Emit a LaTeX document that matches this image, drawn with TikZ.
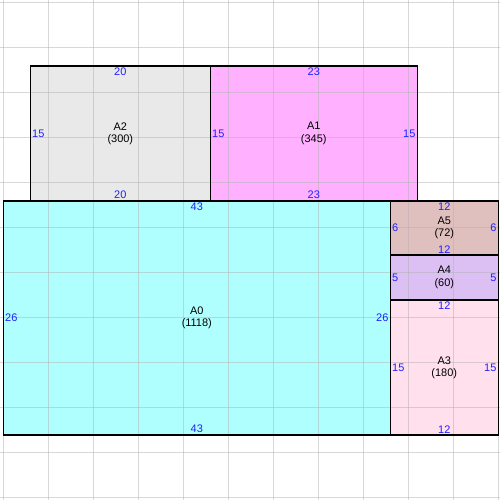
\documentclass[tikz,border=0pt]{standalone}
\usepackage{fontspec}
\setmainfont{Liberation Sans}
\usepackage{tikz}

\definecolor{fillA0}{RGB}{176,255,255}
\definecolor{fillA1}{RGB}{255,176,255}
\definecolor{fillA2}{RGB}{233,233,233}
\definecolor{fillA3}{RGB}{255,224,236}
\definecolor{fillA4}{RGB}{220,192,244}
\definecolor{fillA5}{RGB}{224,192,190}
\definecolor{dimblue}{RGB}{32,32,255}

\tikzset{
  gridline/.style={draw=gray!60,line width=0.9pt,opacity=0.5},
  roomedge/.style={draw=black,line width=1.1pt},
  dimlabel/.style={text=dimblue,inner sep=1.6pt},
  roomname/.style={align=center,inner sep=0pt}
}

\begin{document}
\begin{tikzpicture}[x=0.3cm,y=0.3cm,font=\fontsize{10.4}{11.6}\selectfont]
\useasboundingbox[fill=white] (-0.367,22.33) rectangle (55.19,-33.22);

% areas
\fill[fillA2] (3,15) rectangle (23,0);
\fill[fillA1] (23,15) rectangle (46,0);
\fill[fillA0] (0,0) rectangle (43,-26);
\fill[fillA5] (43,0) rectangle (55,-6);
\fill[fillA4] (43,-6) rectangle (55,-11);
\fill[fillA3] (43,-11) rectangle (55,-26);

% grid
\foreach \gx in {0,5,...,55}
	\draw[gridline] (\gx,22.33) -- (\gx,-33.22);
\foreach \gy in {22,17,...,-33}
	\draw[gridline] (-0.367,\gy) -- (55.19,\gy);

% outlines
\draw[roomedge] (3,15) rectangle (23,0);
\draw[roomedge] (23,15) rectangle (46,0);
\draw[roomedge] (0,0) rectangle (43,-26);
\draw[roomedge] (43,0) rectangle (55,-6);
\draw[roomedge] (43,-6) rectangle (55,-11);
\draw[roomedge] (43,-11) rectangle (55,-26);

% A2
\draw (13,7.5) node[roomname](A2name) {A2\\(300)};
	\draw (13,15) node[dimlabel,anchor=north](A2top) {20};
	\draw (13,0) node[dimlabel,anchor=south](A2bottom) {20};
	\draw (3,7.5) node[dimlabel,anchor=west](A2left) {15};
% A1
\draw (34.5,7.5) node[roomname](A1name) {A1\\(345)};
	\draw (34.5,15) node[dimlabel,anchor=north](A1top) {23};
	\draw (34.5,0) node[dimlabel,anchor=south](A1bottom) {23};
	\draw (23,7.5) node[dimlabel,anchor=west](A1left) {15};
	\draw (46,7.5) node[dimlabel,anchor=east](A1right) {15};
% A0
\draw (21.5,-13) node[roomname](A0name) {A0\\(1118)};
	\draw (21.5,0) node[dimlabel,anchor=north](A0top) {43};
	\draw (21.5,-26) node[dimlabel,anchor=south](A0bottom) {43};
	\draw (0,-13) node[dimlabel,anchor=west](A0left) {26};
	\draw (43,-13) node[dimlabel,anchor=east](A0right) {26};
% A5
\draw (49,-3) node[roomname](A5name) {A5\\(72)};
	\draw (49,0) node[dimlabel,anchor=north](A5top) {12};
	\draw (49,-6) node[dimlabel,anchor=south](A5bottom) {12};
	\draw (43,-3) node[dimlabel,anchor=west](A5left) {6};
	\draw (55,-3) node[dimlabel,anchor=east](A5right) {6};
% A4
\draw (49,-8.5) node[roomname](A4name) {A4\\(60)};
	\draw (43,-8.5) node[dimlabel,anchor=west](A4left) {5};
	\draw (55,-8.5) node[dimlabel,anchor=east](A4right) {5};
% A3
\draw (49,-18.5) node[roomname](A3name) {A3\\(180)};
	\draw (49,-11) node[dimlabel,anchor=north](A3top) {12};
	\draw (49,-26) node[dimlabel,anchor=south](A3bottom) {12};
	\draw (43,-18.5) node[dimlabel,anchor=west](A3left) {15};
	\draw (55,-18.5) node[dimlabel,anchor=east](A3right) {15};
\end{tikzpicture}
\end{document}
